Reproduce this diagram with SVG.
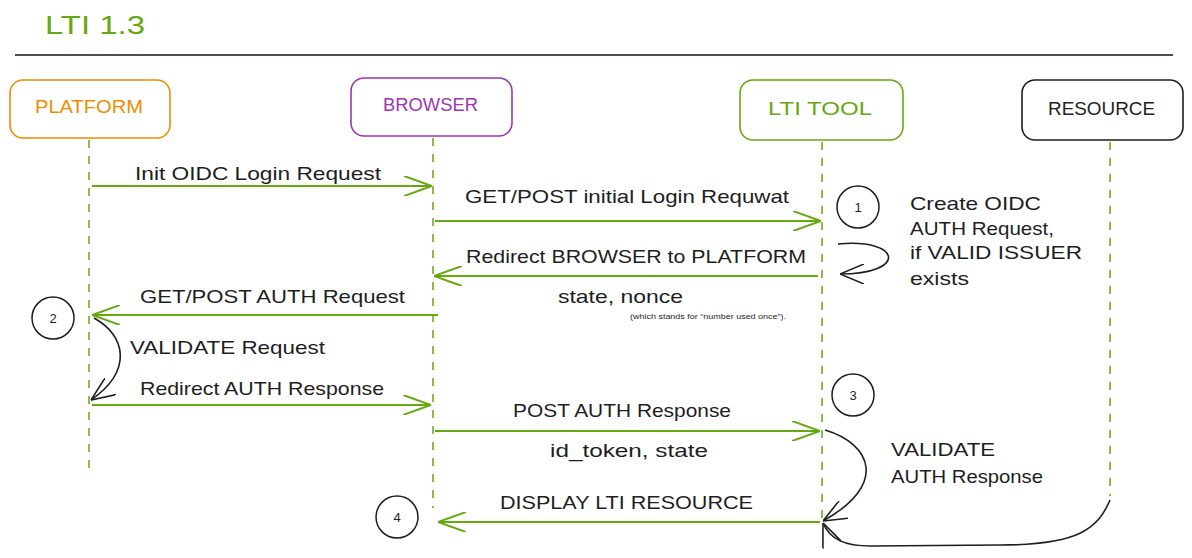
<svg xmlns="http://www.w3.org/2000/svg" width="1192" height="558" viewBox="0 0 1192 558">
<style>
text{font-family:"Liberation Sans","DejaVu Sans",sans-serif;fill:#1e1e1e}
.lbl{font-size:19px}
.head{font-size:18px}
.num{font-size:13px;text-anchor:middle}
.box{fill:#fff;stroke-width:1.6}
.life{stroke:#66a80f;stroke-width:1.5;stroke-dasharray:8 8;fill:none}
.msg{stroke:#66a80f;stroke-width:2;fill:none;marker-end:url(#ag)}
.blk{stroke:#1e1e1e;stroke-width:1.6;fill:none;marker-end:url(#ab)}
.circ{fill:none;stroke:#1e1e1e;stroke-width:1.5}
</style>
<defs>
<marker id="ag" viewBox="0 0 28 20" refX="28" refY="10" markerWidth="28" markerHeight="20" markerUnits="userSpaceOnUse" orient="auto">
<path d="M0,0 L28,10 L0,20" fill="none" stroke="#66a80f" stroke-width="2"/>
</marker>
<marker id="ab" viewBox="0 0 24 20" refX="24" refY="10" markerWidth="24" markerHeight="20" markerUnits="userSpaceOnUse" orient="auto">
<path d="M0,0 L24,10 L0,20" fill="none" stroke="#1e1e1e" stroke-width="1.6"/>
</marker>
</defs>
<rect width="1192" height="558" fill="#fff"/>
<g id="title">
<text x="45" y="34" font-size="25" fill="#66a80f" style="fill:#66a80f" textLength="100" lengthAdjust="spacingAndGlyphs">LTI 1.3</text>
<line x1="15" y1="55" x2="1173" y2="55" stroke="#495057" stroke-width="2"/>
</g>
<g id="lifelines">
<line class="life" x1="89" y1="140" x2="89" y2="476"/>
<line class="life" x1="433" y1="138" x2="433" y2="508"/>
<line class="life" x1="822" y1="142" x2="822" y2="522"/>
<line class="life" x1="1110" y1="142" x2="1110" y2="496"/>
</g>
<g id="platform">
<rect class="box" x="10" y="80" width="160" height="58" rx="13" stroke="#f08c00"/>
<text class="head" x="35" y="113" style="fill:#f08c00" textLength="108" lengthAdjust="spacingAndGlyphs">PLATFORM</text>
</g>
<g id="browser">
<rect class="box" x="351" y="78" width="161" height="58" rx="13" stroke="#9c36b5"/>
<text class="head" x="383" y="111" style="fill:#9c36b5" textLength="95" lengthAdjust="spacingAndGlyphs">BROWSER</text>
</g>
<g id="ltitool">
<rect class="box" x="740" y="80" width="163" height="60" rx="13" stroke="#66a80f"/>
<text class="head" x="768" y="115" style="fill:#66a80f" textLength="104" lengthAdjust="spacingAndGlyphs">LTI TOOL</text>
</g>
<g id="resource">
<rect class="box" x="1022" y="80" width="161" height="60" rx="13" stroke="#1e1e1e"/>
<text class="head" x="1048" y="115" textLength="107" lengthAdjust="spacingAndGlyphs">RESOURCE</text>
</g>
<g id="connectors">
<line class="msg" x1="92" y1="186" x2="432" y2="186"/>
<line class="msg" x1="435" y1="221" x2="821" y2="221"/>
<line class="msg" x1="818" y1="276" x2="434" y2="276"/>
<line class="msg" x1="438" y1="315" x2="92" y2="315"/>
<line class="msg" x1="92" y1="405" x2="431" y2="405"/>
<line class="msg" x1="435" y1="431" x2="820" y2="431"/>
<line class="msg" x1="820" y1="522" x2="438" y2="522"/>
<path class="blk" d="M94,318 C125,335 134,370 91,400"/>
<path class="blk" d="M838,244 C902,238 908,274 840,274"/>
<path class="blk" d="M825,430 C872,444 888,485 823,521"/>
<path class="blk" d="M1110,500 C1098,528 1080,545 1000,545 L870,546 C846,546 830,540 823,523"/>
</g>
<g id="labels">
<text class="lbl" x="135" y="180" textLength="246" lengthAdjust="spacingAndGlyphs">Init OIDC Login Request</text>
<text class="lbl" x="465" y="203" textLength="324" lengthAdjust="spacingAndGlyphs">GET/POST initial Login Requwat</text>
<text class="lbl" x="466" y="263" textLength="340" lengthAdjust="spacingAndGlyphs">Redirect BROWSER to PLATFORM</text>
<text class="lbl" x="558" y="303" textLength="125" lengthAdjust="spacingAndGlyphs">state, nonce</text>
<text x="630" y="319" font-size="8" textLength="156" lengthAdjust="spacingAndGlyphs">(which stands for “number used once”).</text>
<text class="lbl" x="140" y="303" textLength="265" lengthAdjust="spacingAndGlyphs">GET/POST AUTH Request</text>
<text class="lbl" x="130" y="354" textLength="195" lengthAdjust="spacingAndGlyphs">VALIDATE Request</text>
<text class="lbl" x="140" y="395" textLength="244" lengthAdjust="spacingAndGlyphs">Redirect AUTH Response</text>
<text class="lbl" x="513" y="417" textLength="218" lengthAdjust="spacingAndGlyphs">POST AUTH Response</text>
<text class="lbl" x="550" y="457" textLength="158" lengthAdjust="spacingAndGlyphs">id_token, state</text>
<text class="lbl" x="500" y="509" textLength="253" lengthAdjust="spacingAndGlyphs">DISPLAY LTI RESOURCE</text>
<text class="lbl" x="910" y="210" textLength="131" lengthAdjust="spacingAndGlyphs">Create OIDC</text>
<text class="lbl" x="910" y="235" textLength="144" lengthAdjust="spacingAndGlyphs">AUTH Request,</text>
<text class="lbl" x="910" y="259" textLength="172" lengthAdjust="spacingAndGlyphs">if VALID ISSUER</text>
<text class="lbl" x="910" y="285" textLength="59" lengthAdjust="spacingAndGlyphs">exists</text>
<text class="lbl" x="891" y="456" textLength="104" lengthAdjust="spacingAndGlyphs">VALIDATE</text>
<text class="lbl" x="891" y="483" textLength="152" lengthAdjust="spacingAndGlyphs">AUTH Response</text>
</g>
<g id="step1"><circle class="circ" cx="858" cy="207" r="21"/><text class="num" x="858" y="212">1</text></g>
<g id="step2"><circle class="circ" cx="53" cy="318" r="21"/><text class="num" x="53" y="323">2</text></g>
<g id="step3"><circle class="circ" cx="853" cy="395" r="21"/><text class="num" x="853" y="400">3</text></g>
<g id="step4"><circle class="circ" cx="397" cy="517" r="21"/><text class="num" x="397" y="522">4</text></g>
</svg>
